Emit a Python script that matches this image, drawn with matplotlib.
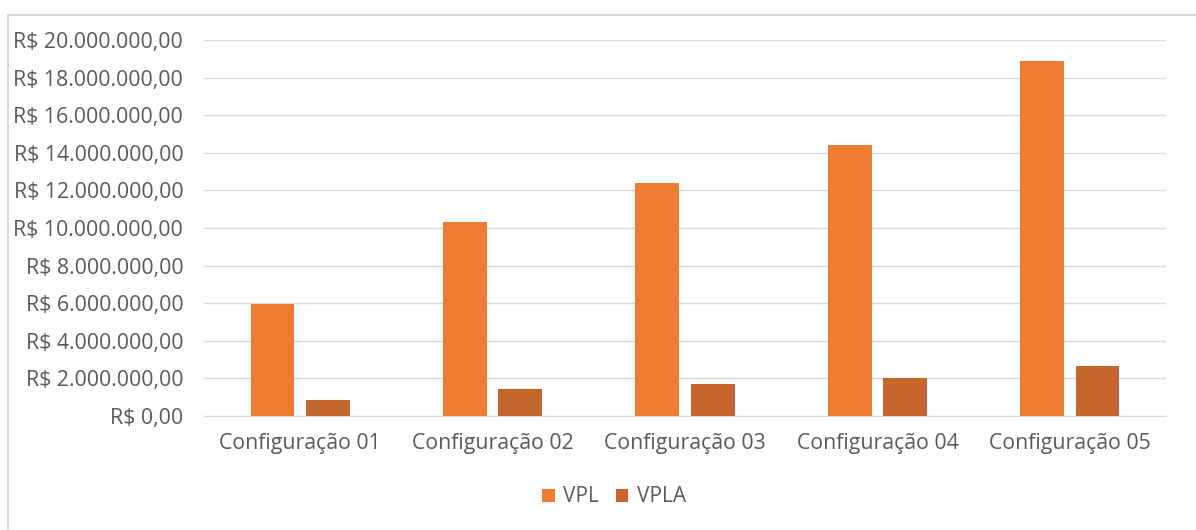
import numpy as np
import matplotlib
matplotlib.use("Agg")
import matplotlib.pyplot as plt
from matplotlib.patches import Rectangle

categorias = ["Configuração 01", "Configuração 02", "Configuração 03",
              "Configuração 04", "Configuração 05"]
vpl = [5.96e6, 10.3e6, 12.4e6, 14.43e6, 18.88e6]
vpla = [0.85e6, 1.44e6, 1.70e6, 2.04e6, 2.66e6]
yticks = np.arange(0, 20e6 + 1, 2e6)


def brl(v):
    s = "{:,.2f}".format(v)
    s = s.replace(",", "X").replace(".", ",").replace("X", ".")
    return "R$ " + s


plt.rcParams['font.family'] = ['Open Sans', 'DejaVu Sans']

fig = plt.figure(figsize=(11.96, 5.30), dpi=100)
ax = fig.add_axes([204 / 1196, 1 - 416 / 530, (1166 - 204) / 1196, (416 - 40) / 530])

# moldura do gráfico
fig.patches.append(Rectangle((8 / 1196, -0.1), 1.2, 1 - 15 / 530 + 0.1,
                             transform=fig.transFigure, fill=False,
                             edgecolor="#D9D9D9", linewidth=1.5))

x = np.arange(len(categorias))
w = 0.228
ax.bar(x - 0.144, vpl, w, color="#ED7D31", label="VPL", zorder=3)
ax.bar(x + 0.144, vpla, w, color="#C5662A", label="VPLA", zorder=3)

ax.set_xlim(-0.5, len(categorias) - 0.5)
ax.set_ylim(0, 20e6)
ax.set_yticks(yticks)
ax.set_yticklabels([brl(v) for v in yticks])
ax.set_xticks(x)
ax.set_xticklabels(categorias)

ax.grid(axis="y", color="#D9D9D9", linewidth=1, zorder=0)
for s in ["top", "right", "left"]:
    ax.spines[s].set_visible(False)
ax.spines["bottom"].set_color("#D9D9D9")
ax.tick_params(axis="both", length=0, colors="#595959", labelsize=15.3)
ax.tick_params(axis="y", pad=15)
ax.tick_params(axis="x", pad=12)

ax.legend(loc="center", bbox_to_anchor=(614 / 1196, 1 - 497 / 530),
          bbox_transform=fig.transFigure, ncol=2, frameon=False,
          fontsize=15, labelcolor="#595959", handlelength=0.6,
          handleheight=0.6, handletextpad=0.4, columnspacing=0.8)

fig.savefig("out.png", dpi=100)
